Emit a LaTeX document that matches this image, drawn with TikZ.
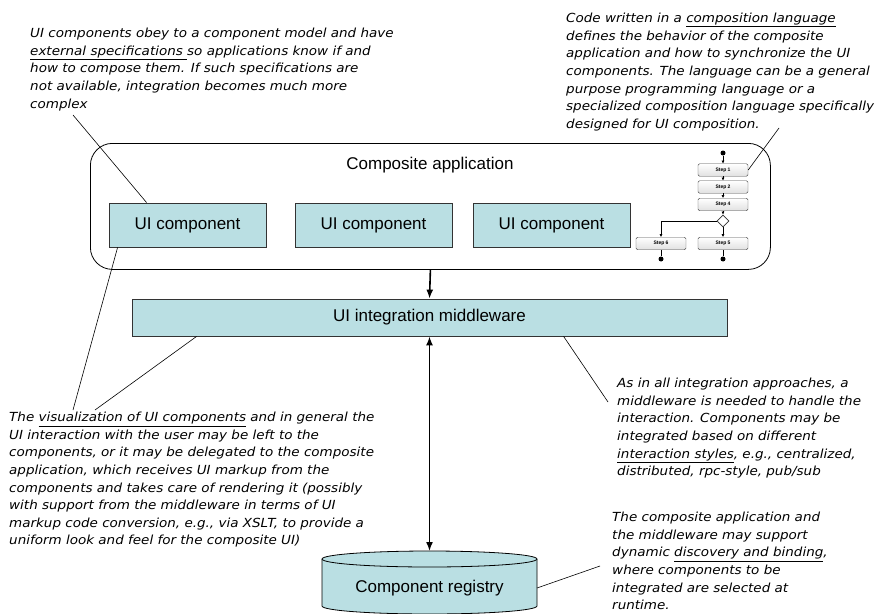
\documentclass[tikz,border=0pt]{standalone}
\usepackage{fontspec}
\setmainfont{DejaVu Sans}[FakeStretch=1.08]
\newfontfamily\arialfont{Liberation Sans}
\usetikzlibrary{shapes.geometric,arrows.meta,calc}
\definecolor{boxblue}{RGB}{186,223,227}
\tikzset{
 note/.style={anchor=north west, inner sep=0, align=left, font=\fontsize{12.5}{17.6}\selectfont\itshape},
 bluebox/.style={draw=black!80, fill=boxblue, line width=0.8pt, font=\arialfont\fontsize{17}{20}\selectfont, inner sep=0},
 stepbox/.style={draw=black!70, rounded corners=1.5pt, minimum width=50pt, minimum height=12.5pt, inner sep=0, top color=white, bottom color=black!12, font=\arialfont\bfseries\fontsize{5}{6}\selectfont},
 bigarrow/.style={line width=1.6pt, -{Latex[length=9pt,width=7pt]}},
 leader/.style={line width=0.6pt},
 flow/.style={line width=0.9pt, -{Latex[length=3pt,width=3pt]}},
 dot/.style={circle, fill=black, inner sep=0, minimum size=5pt},
 lbl/.style={font=\arialfont\fontsize{17}{20}\selectfont, inner sep=0},
}
\begin{document}
\begin{tikzpicture}[x=1pt,y=-1pt]
\useasboundingbox (0,0) rectangle (883,613);
% composite application
\node[draw, line width=0.8pt, rounded corners=22pt, minimum width=680pt, minimum height=126pt, anchor=north west, inner sep=0] (app) at (90,143) {};
\node[lbl] (apptitle) at (430,165) {Composite application};
\node[bluebox, minimum width=157pt, minimum height=44pt] (ui1) at (187.5,225) {UI component};
\node[bluebox, minimum width=157pt, minimum height=44pt] (ui2) at (373.5,225) {UI component};
\node[bluebox, minimum width=157pt, minimum height=44pt] (ui3) at (551.5,225) {UI component};
% step flow
\node[dot] (d0) at (723,153) {};
\node[stepbox] (s1) at (723,170) {Step 1};
\node[stepbox] (s2) at (723,187) {Step 2};
\node[stepbox] (s4) at (723,204.5) {Step 4};
\node[diamond, draw=black!80, fill=white, line width=0.8pt, minimum width=12pt, minimum height=12pt, inner sep=0] (dia) at (723,221) {};
\node[stepbox] (s5) at (723,243.5) {Step 5};
\node[stepbox] (s6) at (661,243.5) {Step 6};
\node[dot] (d5) at (723,259) {};
\node[dot] (d6) at (661,259) {};
\draw[flow] (d0) -- (s1);
\draw[flow] (s1) -- (s2);
\draw[flow] (s2) -- (s4);
\draw[flow] (s4) -- (dia);
\draw[flow] (dia) -- (s5);
\draw[flow] (dia.west) -| (s6.north);
\draw[line width=0.9pt] (s5) -- (d5);
\draw[line width=0.9pt] (s6) -- (d6);
% middleware
\node[bluebox, minimum width=595pt, minimum height=37pt] (mw) at (429.5,317.5) {UI integration middleware};
\draw[bigarrow] (app.south) -- (mw.north);
% registry cylinder
\coordinate (regtop) at (429.5,551);
\draw[line width=0.8pt, fill=boxblue] (322,559) -- (322,606) arc[start angle=180, end angle=360, x radius=107.5, y radius=-8] -- (537,559);
\draw[line width=0.8pt, fill=boxblue] (429.5,559) ellipse[x radius=107.5, y radius=8];
\node[lbl] (reg) at (429.5,588) {Component registry};
\draw[line width=1.6pt, {Latex[length=9pt,width=7pt]}-{Latex[length=9pt,width=7pt]}] (mw.south) -- (regtop);
% notes
\node[note] (ntl) at (30,28) {UI components obey to a component model and have\\
\underline{external specifications }so applications know if and\\
how to compose them. If such specifications are\\
not available, integration becomes much more\\
complex};
\node[note] (ntr) at (566,13) {Code written in a \underline{composition language}\\
defines the behavior of the composite\\
application and how to synchronize the UI\\
components. The language can be a general\\
purpose programming language or a\\
specialized composition language specifically\\
designed for UI composition.};
\node[note] (nbl) at (9,412) {The \underline{visualization of UI components} and in general the\\
UI interaction with the user may be left to the\\
components, or it may be delegated to the composite\\
application, which receives UI markup from the\\
components and takes care of rendering it (possibly\\
with support from the middleware in terms of UI\\
markup code conversion, e.g., via XSLT, to provide a\\
uniform look and feel for the composite UI)};
\node[note] (nrm) at (617,378) {As in all integration approaches, a\\
middleware is needed to handle the\\
interaction. Components may be\\
integrated based on different\\
\underline{interaction styles}, e.g., centralized,\\
distributed, rpc-style, pub/sub};
\node[note] (nbr) at (612,512) {The composite application and\\
the middleware may support\\
dynamic \underline{discovery and binding},\\
where components to be\\
integrated are selected at\\
runtime.};
% leaders
\coordinate (ltl) at (73,115);
\coordinate (ltr) at (779,128);
\coordinate (lbl1) at (73,410);
\coordinate (lbl2) at (95,410);
\coordinate (lrm) at (608,402);
\coordinate (lbr) at (600,566);
\draw[leader] (ltl) -- ($(ui1.north west)+(38,0)$);
\draw[leader] (ltr) -- (s1.east);
\draw[leader] (lbl1) -- ($(ui1.south west)+(9,0)$);
\draw[leader] (lbl2) -- ($(mw.south west)+(65,0)$);
\draw[leader] (lrm) -- ($(mw.south west)+(432,0)$);
\draw[leader] (lbr) -- (537,588);
\end{tikzpicture}
\end{document}
